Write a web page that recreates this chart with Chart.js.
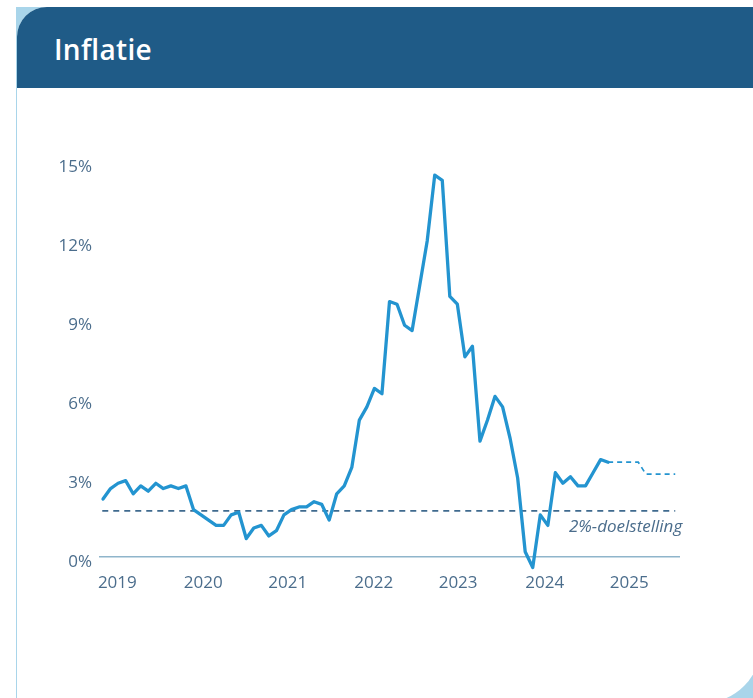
<!DOCTYPE html>
<html>
<head>
<meta charset="utf-8">
<script src="https://cdn.jsdelivr.net/npm/chart.js@4.4.1/dist/chart.umd.min.js"></script>
<style>
  html, body { margin: 0; padding: 0; background: #fff; }
  body { width: 753px; height: 698px; position: relative; overflow: hidden; font-family: "Open Sans", sans-serif; }
  #achter { position: absolute; left: 16px; top: 7px; width: 800px; height: 800px; background: #a9d5ea; }
  #kaart { position: absolute; left: 17px; top: 7px; width: 744px; height: 696px; background: #fff;
           border-top-left-radius: 30px; border-bottom-right-radius: 58px; overflow: hidden; }
  #kop { height: 81px; background: #1f5b87; }
  #kop h1 { margin: 0; padding: 0 0 0 37px; line-height: 84px; color: #fff; font-size: 28px; font-weight: 600; letter-spacing: 0.3px; }
  #grafiek { position: absolute; left: 0; top: 0; }
</style>
</head>
<body>
<div id="achter"></div>
<div id="kaart"><div id="kop"><h1>Inflatie</h1></div></div>
<canvas id="grafiek" width="753" height="698"></canvas>
<script>
// maandcijfers jan 2019 t/m aug 2024 (maand 0 = jan 2019)
const inflatie = [
  2.2, 2.6, 2.8, 2.9, 2.4, 2.7, 2.5, 2.8, 2.6, 2.7, 2.6, 2.7,
  1.8, 1.6, 1.4, 1.2, 1.2, 1.6, 1.7, 0.7, 1.1, 1.2, 0.8, 1.0,
  1.6, 1.8, 1.9, 1.9, 2.1, 2.0, 1.4, 2.4, 2.7, 3.4, 5.2, 5.7,
  6.4, 6.2, 9.7, 9.6, 8.8, 8.6, 10.3, 12.0, 14.5, 14.3, 9.9, 9.6,
  7.6, 8.0, 4.4, 5.2, 6.1, 5.7, 4.5, 3.0, 0.2, -0.4, 1.6, 1.2,
  3.2, 2.8, 3.05, 2.7, 2.7, 3.2, 3.7, 3.6
];
// raming (stippellijn)
const ramingMaand = [67, 71, 72, 75.9];
const ramingWaarde = [3.6, 3.6, 3.15, 3.15];
// doelstelling
const doelMaand = [-0.1, 75.9];
const doelWaarde = [1.75, 1.75];
const doelLabel = '2%-doelstelling';
// jaarlabels
const jaren = ['2019', '2020', '2021', '2022', '2023', '2024', '2025'];
const jaarPositie = [1.9, 13.3, 24.5, 35.9, 47.1, 58.6, 69.8];
const yTicks = [0, 3, 6, 9, 12, 15];

const lijnBlauw = '#2394d0';
const tekstKleur = '#4b6d8c';

const doelTekst = {
  id: 'doelTekst',
  afterDatasetsDraw(chart) {
    const ctx = chart.ctx;
    const x = chart.scales.x.getPixelForValue(doelMaand[1]) + 7;
    const y = chart.scales.y.getPixelForValue(doelWaarde[0]) + 16;
    ctx.save();
    ctx.font = 'italic 17px "Open Sans"';
    ctx.fillStyle = tekstKleur;
    ctx.textAlign = 'right';
    ctx.textBaseline = 'middle';
    ctx.fillText(doelLabel, x, y);
    ctx.restore();
  }
};

new Chart(document.getElementById('grafiek'), {
  type: 'line',
  data: {
    datasets: [{
      label: 'Inflatie',
      data: inflatie.map((v, i) => ({ x: i, y: v })),
      borderColor: lijnBlauw,
      borderWidth: 3.3,
      borderJoinStyle: 'round',
      borderCapStyle: 'round',
      pointRadius: 0,
      tension: 0,
      clip: false
    }, {
      label: 'Raming',
      data: ramingMaand.map((m, i) => ({ x: m, y: ramingWaarde[i] })),
      borderColor: lijnBlauw,
      borderWidth: 1.7,
      borderDash: [5, 4],
      pointRadius: 0,
      tension: 0
    }, {
      label: 'Doelstelling',
      data: doelMaand.map((m, i) => ({ x: m, y: doelWaarde[i] })),
      borderColor: '#3f6a8e',
      borderWidth: 1.7,
      borderDash: [6, 5],
      pointRadius: 0,
      tension: 0
    }]
  },
  options: {
    responsive: false,
    devicePixelRatio: 1,
    animation: false,
    layout: { padding: { top: 162, left: 0, right: 74, bottom: 0 } },
    plugins: { legend: { display: false }, tooltip: { enabled: false } },
    scales: {
      x: {
        type: 'linear',
        min: -0.4,
        max: 76.4,
        afterFit: s => { s.height = 141; },
        afterBuildTicks: s => { s.ticks = jaarPositie.map(v => ({ value: v })); },
        grid: { display: false, drawTicks: false },
        border: { display: true, color: '#8fb5cb', width: 1.5 },
        ticks: {
          padding: 16,
          maxRotation: 0,
          autoSkip: false,
          color: tekstKleur,
          font: { family: '"Open Sans"', size: 17 },
          callback: (v, i) => jaren[i]
        }
      },
      y: {
        min: 0,
        max: 15,
        afterFit: s => { s.width = 100; },
        afterBuildTicks: s => { s.ticks = yTicks.map(v => ({ value: v })); },
        grid: { display: false, drawTicks: false },
        border: { display: false },
        ticks: {
          padding: 8,
          labelOffset: 5,
          color: tekstKleur,
          font: { family: '"Open Sans"', size: 17 },
          callback: v => v + '%'
        }
      }
    }
  },
  plugins: [doelTekst]
});
</script>
</body>
</html>
